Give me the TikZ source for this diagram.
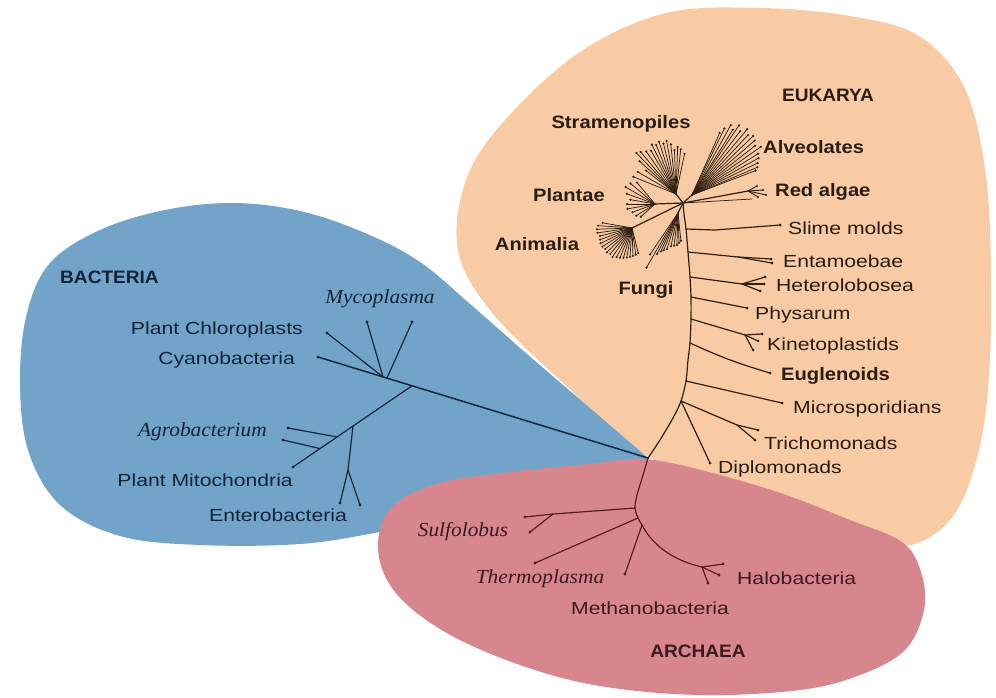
\documentclass[tikz,border=0pt]{standalone}
\usepackage{fontspec}
\usetikzlibrary{calc}
\setmainfont{Liberation Sans}
\newfontfamily\labreg[FakeStretch=1.21]{Liberation Sans}
\newfontfamily\labbold[FakeStretch=1.12]{Liberation Sans}
\newfontfamily\labcaps[FakeStretch=1.06]{Liberation Sans}
\newfontfamily\labital[FakeStretch=1.07]{Liberation Serif}
\definecolor{peach}{HTML}{F8CBA4}
\definecolor{bluebg}{HTML}{71A4C8}
\definecolor{pinkbg}{HTML}{D8868D}
\definecolor{euktext}{HTML}{2A1C12}
\definecolor{bactext}{HTML}{14233A}
\definecolor{arctext}{HTML}{3A1A1E}
\definecolor{eukline}{HTML}{2E1F12}
\definecolor{bacline}{HTML}{16263C}
\definecolor{arcline}{HTML}{5A1A24}
\tikzset{
  lab/.style={inner sep=0pt, text depth=0pt},
  reg/.style={lab, text height=12.5pt, font=\labreg\fontsize{17.5}{20}\selectfont},
  bld/.style={lab, text height=13pt, font=\labbold\bfseries\fontsize{18}{20}\selectfont},
  caps/.style={lab, text height=13pt, font=\labcaps\bfseries\fontsize{18}{20}\selectfont},
  ital/.style={lab, text height=13pt, font=\labital\itshape\fontsize{20}{22}\selectfont},
  euk/.style={text=euktext},
  bac/.style={text=bactext},
  arc/.style={text=arctext},
  etree/.style={draw=eukline, line width=1.2pt, line cap=round, line join=round},
  efan/.style={draw=eukline, line width=0.75pt, line cap=round},
  btree/.style={draw=bacline, line width=1.2pt, line cap=round, line join=round},
  atree/.style={draw=arcline, line width=1.2pt, line cap=round, line join=round},
}
\begin{document}
\begin{tikzpicture}[x=1pt,y=-1pt]
\useasboundingbox (0,0) rectangle (996,697);
\fill[white] (0,0) rectangle (996,697);

% ---------- domain blobs ----------
\fill[peach] plot[smooth cycle, tension=0.6] coordinates {(666,13) (760,8) (850,16) (919,36) (965,89) (986,177) (991,284) (988,390) (975,465) (950,520) (905,546) (850,530) (765,490) (654,460) (560,380) (490,310) (458,250) (466,180) (505,120) (580,52)};
\fill[bluebg] plot[smooth, tension=0.6] coordinates {(648,458) (560,495) (480,512) (380,532) (300,544) (200,545) (120,536) (60,505) (28,450) (20,380) (27,313) (50,263) (100,230) (165,210) (233,203) (300,211) (365,233) (420,262) (470,304) (520,348)} -- cycle;
\fill[pinkbg] plot[smooth cycle, tension=0.6] coordinates {(654,460) (765,488) (850,520) (902,542) (921,572) (924,610) (905,650) (860,675) (800,690) (700,695) (600,686) (520,665) (445,632) (395,592) (378,548) (392,507) (440,483) (520,471) (590,464)};

% ---------- bacteria tree ----------
\coordinate (root) at (648,458);
\coordinate (cyt) at (318,357);
\coordinate (bA) at ($(root)!0.803!(cyt)$);
\coordinate (bA2) at ($(root)!0.791!(cyt)$);
\coordinate (bB) at ($(root)!0.715!(cyt)$);
\coordinate (chlt) at (327,333);
\coordinate (my1) at (367,322);
\coordinate (my2) at (412,322);
\coordinate (mitt) at (293,467);
\coordinate (bC) at ($(bB)!0.496!(mitt)$);
\coordinate (bD) at ($(bB)!0.63!(mitt)$);
\coordinate (bE) at ($(bB)!0.773!(mitt)$);
\coordinate (ag1) at (288,428);
\coordinate (ag2) at (283,440);
\coordinate (en0) at (348,470);
\coordinate (en1) at (340,503);
\coordinate (en2) at (360,505);
\draw[btree, line width=1.5pt] (root) -- (cyt);
\draw[btree] (bA) -- (chlt);
\draw[btree] (bA) -- (my1);
\draw[btree] (bA2) -- (my2);
\draw[btree] (bB) -- (mitt);
\draw[btree] (bD) -- (ag1);
\draw[btree] (bE) -- (ag2);
\draw[btree] (bC) -- (en0) -- (en1);
\draw[btree] (en0) -- (en2);
\foreach \p in {cyt,chlt,my1,my2,mitt,ag1,ag2,en1,en2} \fill[bacline] (\p) circle (1.6pt);

% ---------- archaea tree ----------
\coordinate (a1) at (643,475);
\coordinate (a2) at (637,495);
\coordinate (a3) at (635,508);
\coordinate (a4) at (638,518);
\coordinate (a5) at (642,525);
\draw[atree] plot[smooth] coordinates {(root) (a1) (a2) (a3) (a4) (a5)};
\coordinate (su0) at (553,514);
\coordinate (su1) at (525,517);
\coordinate (su2) at (530,532);
\draw[atree] (a3) -- (su0) -- (su1);
\draw[atree] (su0) -- (su2);
\coordinate (thet) at (535,563);
\draw[atree] (a4) -- (thet);
\coordinate (mett) at (625,574);
\draw[atree] (a5) -- (mett);
\coordinate (ha0) at (702,567);
\coordinate (ha1) at (723,564);
\coordinate (ha2) at (719,575);
\coordinate (ha3) at (708,583);
\draw[atree] (a5) .. controls (655,550) and (680,562) .. (ha0);
\draw[atree] (ha0) -- (ha1);
\draw[atree] (ha0) -- (ha2);
\draw[atree] (ha0) -- (ha3);
\foreach \p in {su1,su2,thet,mett,ha1,ha2,ha3} \fill[arcline] (\p) circle (1.6pt);

% ---------- eukarya tree ----------
\coordinate (k1) at (660,440);
\coordinate (k2) at (673,418);
\coordinate (kT) at (681,401);
\coordinate (kM) at (686,381);
\coordinate (k3) at (688,360);
\coordinate (kE) at (690,343);
\coordinate (kK) at (691,319);
\coordinate (kP) at (691,297);
\coordinate (kH) at (690,277);
\coordinate (kEn) at (688,252);
\coordinate (kS) at (686,229);
\coordinate (k4) at (684,214);
\coordinate (hub) at (683,203);
\draw[etree] plot[smooth, tension=0.5] coordinates {(root) (k1) (k2) (kT) (kM) (k3) (kE) (kK) (kP) (kH) (kEn) (kS) (k4) (hub)};

% right-hand branches
\coordinate (sm0) at (715,230);
\coordinate (smt) at (780,225);
\draw[etree] (kS) -- (sm0) -- (smt);
\coordinate (en0e) at (738,257);
\coordinate (ent1) at (771,259);
\coordinate (ent2) at (772,263);
\draw[etree] (kEn) -- (en0e) -- (ent1);
\draw[etree] (en0e) -- (ent2);
\coordinate (he0) at (742,284);
\coordinate (het1) at (765,277);
\coordinate (het2) at (764,284);
\coordinate (het3) at (760,291);
\draw[etree] (kH) -- (he0) -- (het1);
\draw[etree] (he0) -- (het2);
\draw[etree] (he0) -- (het3);
\coordinate (pht) at (747,308);
\draw[etree] (kP) -- (pht);
\coordinate (ki0) at (745,335);
\coordinate (kit1) at (762,334);
\coordinate (kit2) at (758,341);
\coordinate (kit3) at (753,350);
\draw[etree] (kK) -- (ki0) -- (kit1);
\draw[etree] (ki0) -- (kit2);
\draw[etree] (ki0) -- (kit3);
\coordinate (eut) at (770,373);
\draw[etree] (kE) to[bend right=4] (eut);
\coordinate (mit) at (782,403);
\draw[etree] (kM) -- (mit);
\coordinate (tr0) at (737,425);
\coordinate (trt1) at (758,430);
\coordinate (trt2) at (755,440);
\draw[etree] (kT) -- (tr0) -- (trt1);
\draw[etree] (tr0) -- (trt2);
\coordinate (dit) at (710,463);
\draw[etree] (kT) -- (dit);
\foreach \p in {smt,ent1,ent2,het1,het2,het3,pht,kit1,kit2,kit3,eut,mit,trt1,trt2,dit} \fill[eukline] (\p) circle (1.5pt);

% crown
\coordinate (alvhub) at (692,195);
\coordinate (strhub) at (676,194);
\coordinate (plhub) at (655,204);
\coordinate (anhub) at (632,228);
\coordinate (fuhub) at (678,213);
\coordinate (rahub) at (748,191);
\draw[etree] (hub) -- (alvhub);
\draw[etree] (hub) -- (strhub);
\draw[etree] (hub) -- (plhub);
\draw[etree] (hub) -- (anhub);
\draw[etree] (hub) -- (fuhub);
\draw[etree] (hub) -- (rahub);
\draw[efan] (hub) -- (752,199);
\foreach \q/\r [count=\i] in {757/186,763/190,766/195,758/197} {
  \coordinate (ra\i) at (\q,\r);
  \draw[efan, line width=0.9pt] (rahub) -- (ra\i);
  \fill[eukline] (ra\i) circle (1.2pt);
}
\foreach \a/\l [count=\i] in {66/68,64/74,61/80,58/77,56/84,53/80,50/86,47/82,44/85,41/83,38/80,35/84,32/78,29/76,26/73,23/71,21/68} {
  \draw[efan] (alvhub) -- ++(\a:\l pt) coordinate (al\i);
  \fill[eukline] (al\i) circle (1.2pt);
}
\foreach \a/\l [count=\i] in {78/41,84/45,88/47,92/44,96/50,100/54,104/52,108/55,112/53,116/55,120/50,125/52,130/55,134/57,138/49,142/38,150/44,158/46} {
  \draw[efan] (strhub) -- ++(\a:\l pt) coordinate (st\i);
  \fill[eukline] (st\i) circle (1.2pt);
}
\foreach \a/\l [count=\i] in {130/28,140/32,150/34,160/30,170/25,180/28,190/28,200/24,212/22,222/19} {
  \draw[efan] (plhub) -- ++(\a:\l pt) coordinate (pl\i);
  \fill[eukline] (pl\i) circle (1.2pt);
}
\foreach \a/\l [count=\i] in {170/30,176/34,182/35,188/35,194/33,200/34,206/35,212/35,218/34,224/35,230/34,236/35,242/33,248/32,254/31,260/30,266/29,272/28,278/27,284/26} {
  \draw[efan] (anhub) -- ++(\a:\l pt) coordinate (an\i);
  \fill[eukline] (an\i) circle (1.1pt);
}
\foreach \a/\l [count=\i] in {236/50,240/63,243/46,246/42,249/40,253/38,258/34,263/33,268/32,272/30,276/28} {
  \draw[efan] (fuhub) -- ++(\a:\l pt) coordinate (fu\i);
  \fill[eukline] (fu\i) circle (1.2pt);
}

% ---------- labels ----------
\node[caps, euk] (eukarya) at (828,95) {EUKARYA};
\node[bld, euk] (stra) at (621,122) {Stramenopiles};
\node[bld, euk, anchor=west] (alve) at (763,147) {Alveolates};
\node[bld, euk] (plan) at (569,195) {Plantae};
\node[bld, euk, anchor=west] (reda) at (775,190) {Red algae};
\node[bld, euk] (anim) at (537,244) {Animalia};
\node[bld, euk] (fung) at (646,288) {Fungi};
\node[reg, euk, anchor=west] (slim) at (788,228) {Slime molds};
\node[reg, euk, anchor=west] (enta) at (783,261) {Entamoebae};
\node[reg, euk, anchor=west] (hete) at (776,285) {Heterolobosea};
\node[reg, euk, anchor=west] (phys) at (755,313) {Physarum};
\node[reg, euk, anchor=west] (kine) at (767,344) {Kinetoplastids};
\node[bld, euk, anchor=west] (eugl) at (781,374) {Euglenoids};
\node[reg, euk, anchor=west] (micr) at (793,407) {Microsporidians};
\node[reg, euk, anchor=west] (tric) at (764,443) {Trichomonads};
\node[reg, euk, anchor=west] (dipl) at (718,467) {Diplomonads};

\node[caps, bac, anchor=west] (bact) at (60,277) {BACTERIA};
\node[ital, bac] (myco) at (380,297) {Mycoplasma};
\node[reg, bac, anchor=east] (chlo) at (303,328) {Plant Chloroplasts};
\node[reg, bac, anchor=east] (cyan) at (295,358) {Cyanobacteria};
\node[ital, bac, anchor=east] (agro) at (267,430) {Agrobacterium};
\node[reg, bac, anchor=east] (mito) at (293,480) {Plant Mitochondria};
\node[reg, bac] (ente) at (278,515) {Enterobacteria};

\node[ital, arc] (sulf) at (463,530) {Sulfolobus};
\node[ital, arc] (ther) at (540,577) {Thermoplasma};
\node[reg, arc] (meth) at (650,608) {Methanobacteria};
\node[reg, arc, anchor=west] (halo) at (737,578) {Halobacteria};
\node[caps, arc] (arch) at (698,651) {ARCHAEA};
\end{tikzpicture}
\end{document}
